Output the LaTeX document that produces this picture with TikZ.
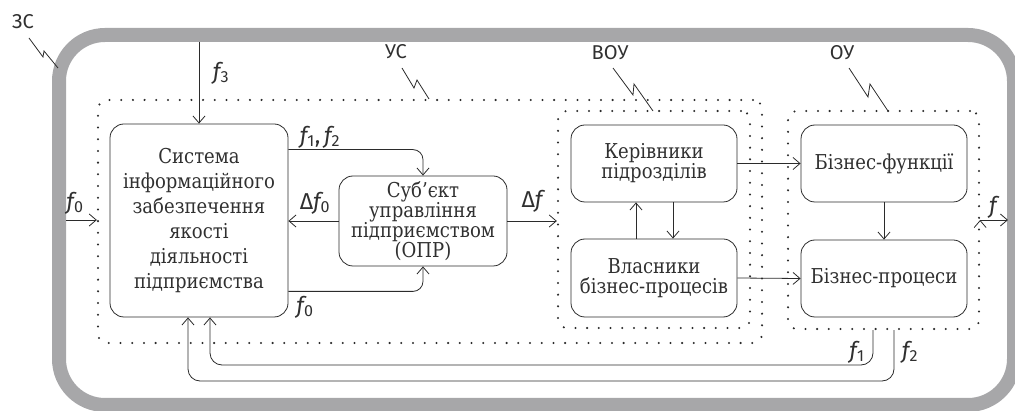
\documentclass[tikz,border=0pt]{standalone}
\usepackage{fontspec}
\setmainfont{DejaVu Serif}[FakeStretch=0.88]
\newfontfamily\labfont{Fira Sans}
\usetikzlibrary{arrows.meta}

\definecolor{linec}{HTML}{2B2B2B}
\definecolor{textc}{HTML}{303030}
\definecolor{bandc}{HTML}{A7A7A9}

% italic signal name with an index
\newcommand{\sig}[1]{{\labfont\itshape f}\textsubscript{\labfont #1}}

\tikzstyle{block}=[rectangle,
                   rounded corners=14pt,
                   line width=0.8pt,
                   draw=linec,
                   text=textc,
                   align=center,
                   inner sep=0pt,
                   font=\fontsize{20.5}{20}\selectfont]
\tikzstyle{dotbox}=[rectangle,
                   rounded corners=9pt,
                   line width=2.3pt,
                   draw=linec,
                   dash pattern=on 0pt off 11.7pt,
                   line cap=round]
\tikzstyle{band}=[rectangle,
                   rounded corners=46pt,
                   line width=14pt,
                   draw=bandc]
\tikzstyle{sysname}=[text=textc,
                   font=\labfont\fontsize{20}{20}\selectfont]
\tikzstyle{signal}=[text=textc,
                   inner sep=0pt,
                   font=\labfont\fontsize{23}{23}\selectfont]
\tikzstyle{arr}=[-{Straight Barb[length=7pt,width=12pt]},
                   line width=0.8pt,
                   draw=linec]
\tikzstyle{zig}=[line width=0.8pt,
                   draw=linec]

\begin{document}
\begin{tikzpicture}[x=1pt,y=-1pt]
  \useasboundingbox (0,0) rectangle (1015,411);

  % Outer system boundary and the dotted subsystems
  \node (ZS) [band, minimum width=955pt, minimum height=370pt] at (536.5,220) {};
  \node (US) [dotbox, minimum width=664pt, minimum height=243pt] at (430,221.5) {};
  \node (VOU) [dotbox, minimum width=192pt, minimum height=217pt] at (654,219.5) {};
  \node (OU) [dotbox, minimum width=191pt, minimum height=218pt] at (883.5,220) {};

  % Blocks
  \node (Sys) [block, minimum width=178pt, minimum height=193pt,
               font=\fontsize{20.5}{25}\selectfont] at (199,220.5)
    {Система\\інформаційного\\забезпечення\\якості\\діяльності\\підприємства};
  \node (Subj) [block, minimum width=168pt, minimum height=90pt] at (423,221)
    {Суб’єкт\\управління\\підприємством\\(ОПР)};
  \node (Heads) [block, minimum width=166pt, minimum height=77pt] at (654,163.5)
    {Керівники\\підрозділів};
  \node (Owners) [block, minimum width=166pt, minimum height=78pt] at (654,278)
    {Власники\\бізнес-процесів};
  \node (Func) [block, minimum width=166pt, minimum height=77pt] at (884,163.5)
    {Бізнес-функції};
  \node (Proc) [block, minimum width=166pt, minimum height=77pt] at (884,278.5)
    {Бізнес-процеси};

  % Names of the subsystems with their pointers
  \node (ZS_lbl) [sysname] at (23,22) {ЗС};
  \node (US_lbl) [sysname] at (396,52) {УС};
  \node (VOU_lbl) [sysname] at (610,53) {ВОУ};
  \node (OU_lbl) [sysname] at (842,53) {ОУ};
  \draw[zig] (29,38) -- (43,57) -- (44,51) -- (58,68);
  \draw[zig] (402,68) -- (414,88) -- (417,80) -- (429,99);
  \draw[zig] (613,68) -- (633,95) -- (634,84) -- (653,111);
  \draw[zig] (849,68) -- (868,97) -- (870,84) -- (888,111);

  % Free ends on the boundary
  \coordinate (f3_in) at (199,42);
  \coordinate (f0_in) at (66,220);
  \coordinate (f_out) at (1008,220);
  \coordinate (fb1) at (0,365);
  \coordinate (fb2) at (0,381);

  % Connections
  \path[arr]
    (f3_in) edge (Sys.north)
    (f0_in) edge (f0_in -| US.west)
    (Subj.west) edge (Sys.east |- Subj.west)
    (Subj.east) edge (Subj.east -| VOU.west)
    ([xshift=19pt]Heads.south) edge ([xshift=19pt]Owners.north)
    ([xshift=-18pt]Owners.north) edge ([xshift=-18pt]Heads.south)
    (Heads.east) edge (Func.west)
    (Owners.east) edge (Proc.west)
    (Func.south) edge (Proc.north)
    (OU.east |- f_out) edge (f_out)
    ;
  \draw[arr, rounded corners=10pt] ([yshift=-26pt]Sys.north east) -| (Subj.north);
  \draw[arr, rounded corners=10pt] ([yshift=26pt]Sys.south east) -| (Subj.south);
  \draw[arr, rounded corners=12pt] ([xshift=-10.5pt]OU.south)
    -- ([xshift=-10.5pt]OU.south |- fb1) -| ([xshift=11pt]Sys.south);
  \draw[arr, rounded corners=12pt] ([xshift=10.5pt]OU.south)
    -- ([xshift=10.5pt]OU.south |- fb2) -| ([xshift=-11pt]Sys.south);

  % Signal labels
  \node (l_f3) [signal] at (221,73) {\sig{3}};
  \node (l_f0in) [signal] at (75,203) {\sig{0}};
  \node (l_f12) [signal] at (320,137) {\sig{1},\,\sig{2}};
  \node (l_df0) [signal] at (315,203) {Δ\sig{0}};
  \node (l_f0) [signal] at (305,307) {\sig{0}};
  \node (l_df) [signal] at (532,201) {Δ{\labfont\itshape f}};
  \node (l_f) [signal] at (993,207) {{\labfont\itshape f}};
  \node (l_f1) [signal] at (857,352) {\sig{1}};
  \node (l_f2) [signal] at (910,352) {\sig{2}};
\end{tikzpicture}
\end{document}
